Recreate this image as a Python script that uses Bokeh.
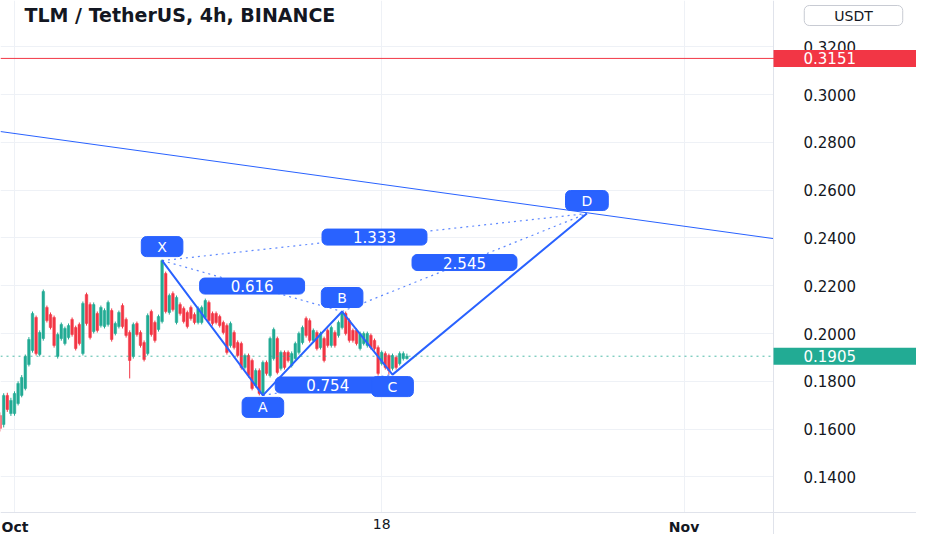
from bokeh.plotting import figure
from bokeh.models import ColumnDataSource, FixedTicker, Span, Label, BoxAnnotation
from bokeh.core.properties import value
from bokeh.embed import file_html
from bokeh.resources import INLINE
import numpy as np

# ---------------- data ----------------
# 4h candles, first candle Sep 30 08:00; x unit = days since Oct 1 00:00
opens = [0.1657, 0.1619, 0.1741, 0.1665, 0.1665, 0.1707, 0.1741, 0.1770, 0.1870, 0.1929,
         0.2067, 0.1912, 0.1979, 0.2109, 0.2079, 0.2067, 0.1904, 0.1979, 0.1958, 0.1983,
         0.2059, 0.2025, 0.2038, 0.1916, 0.2163, 0.2121, 0.2008, 0.2084, 0.2033, 0.2029,
         0.2038, 0.2096, 0.2000, 0.2029, 0.2117, 0.2059, 0.2004, 0.1904, 0.2042, 0.2004,
         0.1962, 0.1916, 0.2092, 0.2046, 0.2017, 0.2050, 0.2251, 0.2088, 0.2167, 0.2046,
         0.2121, 0.2105, 0.2088, 0.2109, 0.2079, 0.2046, 0.2046, 0.2067, 0.2130, 0.2084,
         0.2084, 0.2071, 0.2046, 0.2033, 0.1950, 0.2004, 0.1962, 0.1958, 0.1858, 0.1908,
         0.1887, 0.1782, 0.1845, 0.1749, 0.1879, 0.1824, 0.1895, 0.1979, 0.1854, 0.1921,
         0.1921, 0.1866, 0.1895, 0.1921, 0.1962, 0.2063, 0.2054, 0.1971, 0.2004, 0.1941,
         0.1979, 0.2013, 0.1950, 0.2004, 0.1992, 0.2025, 0.2084, 0.2054, 0.2013, 0.2013,
         0.1937, 0.1958, 0.1950, 0.1992, 0.1971, 0.1941, 0.1874, 0.1916, 0.1908, 0.1854,
         0.1900, 0.1874, 0.1895, 0.1895]
highs = [0.1670, 0.1750, 0.1752, 0.1731, 0.1758, 0.1800, 0.1826, 0.1912, 0.1985, 0.2092,
         0.2075, 0.2013, 0.2184, 0.2117, 0.2088, 0.2075, 0.2004, 0.2046, 0.2029, 0.2042,
         0.2067, 0.2033, 0.2046, 0.2134, 0.2171, 0.2130, 0.2130, 0.2092, 0.2117, 0.2105,
         0.2138, 0.2105, 0.2050, 0.2096, 0.2126, 0.2067, 0.2013, 0.2046, 0.2050, 0.2013,
         0.1971, 0.2084, 0.2100, 0.2054, 0.2079, 0.2310, 0.2259, 0.2167, 0.2176, 0.2159,
         0.2130, 0.2113, 0.2096, 0.2117, 0.2088, 0.2113, 0.2117, 0.2146, 0.2138, 0.2092,
         0.2092, 0.2079, 0.2054, 0.2042, 0.2050, 0.2013, 0.1971, 0.1966, 0.1916, 0.1916,
         0.1895, 0.1854, 0.1854, 0.1887, 0.1887, 0.1987, 0.2025, 0.1987, 0.1929, 0.1929,
         0.1929, 0.1925, 0.1966, 0.2008, 0.2033, 0.2071, 0.2063, 0.2021, 0.2013, 0.2008,
         0.1987, 0.2021, 0.2033, 0.2013, 0.2054, 0.2092, 0.2092, 0.2063, 0.2021, 0.2021,
         0.2008, 0.2008, 0.2008, 0.2000, 0.1979, 0.1950, 0.1929, 0.1925, 0.1916, 0.1916,
         0.1908, 0.1925, 0.1925, 0.1916]
lows = [0.1590, 0.1607, 0.1672, 0.1655, 0.1656, 0.1699, 0.1733, 0.1762, 0.1862, 0.1920,
        0.1908, 0.1904, 0.1970, 0.2046, 0.2017, 0.1941, 0.1895, 0.1970, 0.1950, 0.1975,
        0.1987, 0.1929, 0.1950, 0.1908, 0.2033, 0.1975, 0.2000, 0.2004, 0.2025, 0.2021,
        0.2029, 0.1966, 0.1992, 0.2021, 0.2021, 0.1983, 0.1812, 0.1895, 0.1987, 0.1941,
        0.1883, 0.1908, 0.1987, 0.1962, 0.2008, 0.2042, 0.2084, 0.2079, 0.2092, 0.2038,
        0.2075, 0.2042, 0.2021, 0.2054, 0.2038, 0.2038, 0.2038, 0.2059, 0.2046, 0.2033,
        0.2038, 0.2025, 0.1996, 0.1912, 0.1941, 0.1933, 0.1900, 0.1849, 0.1849, 0.1816,
        0.1762, 0.1774, 0.1741, 0.1741, 0.1824, 0.1816, 0.1887, 0.1829, 0.1845, 0.1849,
        0.1879, 0.1858, 0.1887, 0.1912, 0.1954, 0.1983, 0.1962, 0.1962, 0.1929, 0.1933,
        0.1879, 0.1941, 0.1941, 0.1941, 0.1983, 0.2017, 0.1992, 0.1962, 0.1962, 0.1950,
        0.1929, 0.1950, 0.1941, 0.1933, 0.1929, 0.1824, 0.1866, 0.1849, 0.1828, 0.1845,
        0.1849, 0.1866, 0.1887, 0.1891]
closes = [0.1603, 0.1741, 0.1682, 0.1720, 0.1749, 0.1791, 0.1816, 0.1904, 0.1975, 0.2084,
          0.1916, 0.2004, 0.2176, 0.2054, 0.2025, 0.1950, 0.1996, 0.2038, 0.2021, 0.2033,
          0.1996, 0.1937, 0.1958, 0.2126, 0.2042, 0.1983, 0.2121, 0.2013, 0.2109, 0.2096,
          0.2130, 0.1975, 0.2042, 0.2088, 0.2029, 0.1992, 0.1887, 0.2038, 0.1996, 0.1950,
          0.1891, 0.2075, 0.1996, 0.1971, 0.2071, 0.2305, 0.2092, 0.2159, 0.2100, 0.2151,
          0.2084, 0.2050, 0.2029, 0.2063, 0.2046, 0.2105, 0.2109, 0.2138, 0.2054, 0.2042,
          0.2046, 0.2033, 0.2004, 0.1921, 0.2042, 0.1941, 0.1908, 0.1858, 0.1908, 0.1824,
          0.1770, 0.1845, 0.1749, 0.1879, 0.1833, 0.1979, 0.2017, 0.1837, 0.1921, 0.1858,
          0.1887, 0.1916, 0.1958, 0.2000, 0.2025, 0.1992, 0.1971, 0.2013, 0.1937, 0.2000,
          0.1887, 0.1950, 0.2025, 0.1950, 0.2046, 0.2088, 0.2000, 0.1971, 0.1971, 0.1958,
          0.2000, 0.2000, 0.2000, 0.1941, 0.1937, 0.1833, 0.1921, 0.1858, 0.1845, 0.1908,
          0.1858, 0.1916, 0.1916, 0.1905]

# XABCD pattern points (days since Oct 1, price)
pat_names = ["X", "A", "B", "C", "D"]
pat_t = [6.833, 11.5, 15.167, 17.5, 26.5]
pat_p = [0.2305, 0.1741, 0.2092, 0.1828, 0.2502]
ratio_from = [0, 1, 2, 0]
ratio_to = [2, 3, 4, 4]
ratio_text = ["0.616", "0.754", "2.545", "1.333"]

# descending trend line (from the chart's left edge to its right edge)
trend_t = [-0.648, 35.14]
trend_p = [0.2845, 0.2397]

resistance = 0.3151
last_price = 0.1905

y_ticks = [0.14, 0.16, 0.18, 0.20, 0.22, 0.24, 0.26, 0.28, 0.30, 0.32]
y_tick_labels = ["0.1400", "0.1600", "0.1800", "0.2000", "0.2200",
                 "0.2400", "0.2600", "0.2800", "0.3000", "0.3200"]
x_ticks = [0, 17, 31]
x_tick_labels = ["Oct", "18", "Nov"]

# ---------------- layout / styling ----------------
FONT = "DejaVu Sans"
GREEN = "#22ab94"
RED = "#f23645"
BLUE = "#2962ff"
TXT = "#131722"
SEP = "#e0e3eb"

W, H = 916, 534
PX_PER_DAY = 21.6
PX_PER_UNIT = 2390.0
X0_PX = 14.0                       # pixel of Oct 1 00:00
Y_REF_PX, Y_REF = 333.0, 0.2       # pixel of price 0.2000
CHART_RIGHT_PX = 773.0             # price-scale separator
AXIS_BOTTOM_PX = 512.0             # time-scale separator

def t_at(px):
    return (px - X0_PX) / PX_PER_DAY

def p_at(py):
    return Y_REF + (Y_REF_PX - py) / PX_PER_UNIT

chart_end = t_at(CHART_RIGHT_PX)
axis_y = p_at(AXIS_BOTTOM_PX)

p = figure(width=W, height=H, x_range=(t_at(0), t_at(W)), y_range=(p_at(H), p_at(0)),
           y_axis_location="right", output_backend="svg", toolbar_location=None,
           min_border=0, min_border_left=0, min_border_right=0,
           min_border_top=0, min_border_bottom=0,
           background_fill_color="white", border_fill_color="white",
           outline_line_color=None)

# price scale (drawn at the chart's right edge)
yax = p.yaxis[0]
yax.fixed_location = chart_end
yax.ticker = FixedTicker(ticks=y_ticks)
yax.major_label_overrides = {v: s for v, s in zip(y_ticks, y_tick_labels)}
yax.major_label_text_font = FONT
yax.major_label_text_font_size = "15px"
yax.major_label_text_color = TXT
yax.major_label_standoff = 30
yax.major_tick_out = 0
yax.major_tick_in = 0
yax.minor_tick_out = 0
yax.minor_tick_in = 0
yax.axis_line_color = SEP

# time scale
xax = p.xaxis[0]
xax.fixed_location = axis_y
xax.ticker = FixedTicker(ticks=x_ticks)
xax.major_label_overrides = {x_ticks[0]: "", x_ticks[1]: x_tick_labels[1], x_ticks[2]: ""}
xax.major_label_text_font = FONT
xax.major_label_text_font_size = "14px"
xax.major_label_text_color = TXT
xax.major_label_standoff = 6
xax.major_tick_out = 0
xax.major_tick_in = 0
xax.minor_tick_out = 0
xax.minor_tick_in = 0
xax.axis_line_color = SEP

p.xgrid.grid_line_color = "#eef1f6"
p.ygrid.grid_line_color = "#eef1f6"

# keep grid lines out of the scale areas
p.add_layout(BoxAnnotation(left=chart_end, fill_color="white", fill_alpha=1,
                           line_color=None, level="underlay"))
p.add_layout(BoxAnnotation(top=axis_y, fill_color="white", fill_alpha=1,
                           line_color=None, level="underlay"))

# bold month labels
p.add_layout(Label(x=x_ticks[0], y=H - 526, x_units="data", y_units="screen",
                   x_offset=-13, text=x_tick_labels[0], text_font=FONT,
                   text_font_size="14px", text_font_style="bold", text_color=TXT,
                   text_align="left", text_baseline="middle"))
p.add_layout(Label(x=x_ticks[2], y=H - 526, x_units="data", y_units="screen",
                   text=x_tick_labels[2], text_font=FONT,
                   text_font_size="14px", text_font_style="bold", text_color=TXT,
                   text_align="center", text_baseline="middle"))

# horizontal levels
p.add_layout(Span(location=resistance, dimension="width", line_color=RED, line_width=1))
p.add_layout(Span(location=last_price, dimension="width", line_color=GREEN, line_width=1,
                  line_dash="2 4", line_alpha=0.8))

# trend line
p.line(trend_t, trend_p, line_color=BLUE, line_width=1)

# candles
n = len(opens)
t = [(i - 4) / 6 for i in range(n)]
o = np.array(opens)
c = np.array(closes)
src = ColumnDataSource(dict(
    t=t, high=highs, low=lows,
    top=np.maximum(o, c), bottom=np.minimum(o, c),
    color=np.where(c >= o, GREEN, RED)))
p.segment(x0="t", y0="low", x1="t", y1="high", line_color="color", line_width=1, source=src)
p.vbar(x="t", width=0.12, top="top", bottom="bottom", fill_color="color",
       line_color="color", line_width=0.5, source=src)

# dotted ratio lines
rsrc = ColumnDataSource(dict(
    x0=[pat_t[i] for i in ratio_from], y0=[pat_p[i] for i in ratio_from],
    x1=[pat_t[i] for i in ratio_to], y1=[pat_p[i] for i in ratio_to],
    xm=[(pat_t[a] + pat_t[b]) / 2 for a, b in zip(ratio_from, ratio_to)],
    ym=[(pat_p[a] + pat_p[b]) / 2 for a, b in zip(ratio_from, ratio_to)],
    txt=ratio_text))
p.segment(x0="x0", y0="y0", x1="x1", y1="y1", source=rsrc, line_color=BLUE,
          line_width=1.2, line_dash="2 4", line_alpha=0.75)

# XABCD legs
p.line(pat_t, pat_p, line_color=BLUE, line_width=2)

# ratio labels
p.text(x="xm", y="ym", text="txt", source=rsrc, text_color="white",
       text_font=value(FONT), text_font_size="15px", text_align="center",
       text_baseline="middle", background_fill_color=BLUE, border_line_color=BLUE,
       padding=(31, 2), border_radius=5)

# point letters
letter_offsets = [-14, 12, -14, 12, -13]
lsrc = ColumnDataSource(dict(t=pat_t, p=pat_p, name=pat_names, dy=letter_offsets))
p.text(x="t", y="p", text="name", y_offset="dy", source=lsrc, text_color="white",
       text_font=value(FONT), text_font_size="14px", text_align="center",
       text_baseline="middle", background_fill_color=BLUE, border_line_color=BLUE,
       padding=(16, 2), border_radius=5)

# title
p.add_layout(Label(x=24, y=H - 14, x_units="screen", y_units="screen",
                   text="TLM / TetherUS, 4h, BINANCE", text_font=FONT,
                   text_font_size="19px", text_font_style="bold", text_color=TXT,
                   text_baseline="middle"))

# currency box
p.add_layout(Label(x=853, y=H - 15, x_units="screen", y_units="screen", text="USDT",
                   text_font=FONT, text_font_size="14px", text_color=TXT,
                   text_align="center", text_baseline="middle",
                   border_line_color="#c8cbd3", border_radius=5, padding=(30, 2),
                   background_fill_color="white"))

# price tags on the price scale
half = 8.5 / PX_PER_UNIT
for lvl, col in [(resistance, RED), (last_price, GREEN)]:
    p.add_layout(BoxAnnotation(left=chart_end, bottom=lvl - half, top=lvl + half,
                               fill_color=col, fill_alpha=1, line_color=None))
    p.add_layout(Label(x=803, y=lvl, x_units="screen", y_units="data",
                       text=f"{lvl:.4f}", text_font=FONT, text_font_size="15px",
                       text_color="white", text_align="left", text_baseline="middle"))

open("out.html", "w").write(file_html(p, INLINE))
